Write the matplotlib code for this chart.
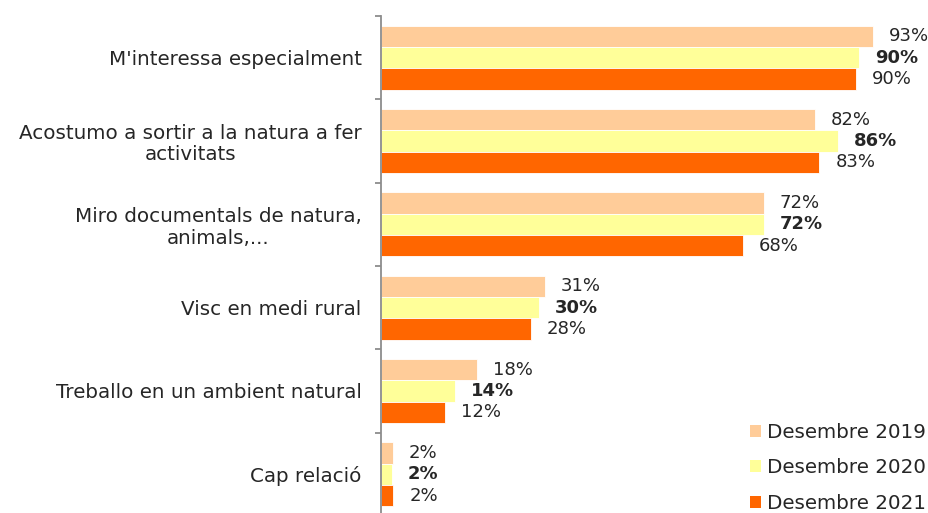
import numpy as np
import matplotlib.pyplot as plt
from matplotlib.patches import Patch

# ==== data ====
categories = [
    "M'interessa especialment",
    "Acostumo a sortir a la natura a fer\nactivitats",
    "Miro documentals de natura,\nanimals,...",
    "Visc en medi rural",
    "Treballo en un ambient natural",
    "Cap relació",
]
series_names = ["Desembre 2019", "Desembre 2020", "Desembre 2021"]
dec_2019 = [93.0, 82.1, 72.4, 31.0, 18.2, 2.2]
dec_2020 = [90.4, 86.4, 72.4, 29.9, 14.0, 2.1]
dec_2021 = [89.9, 82.9, 68.4, 28.4, 12.1, 2.3]
colors = ["#FFCC99", "#FFFF99", "#FF6600"]

plt.rcParams['font.family'] = ['DejaVu Sans']
text_color = "#262626"
cat_size = 14.3
lbl_size = 13

fig = plt.figure(figsize=(9.29, 5.13), dpi=100)
ax = fig.add_axes([381 / 929, -3 / 513, (909.7 - 381) / 929, (516 - 16) / 513])

y = np.arange(len(categories))
h = 0.255
all_series = [dec_2019, dec_2020, dec_2021]
for i, (vals, col, name) in enumerate(zip(all_series, colors, series_names)):
    pos = y + (i - 1) * h
    ax.barh(pos, vals, height=h, color=col, edgecolor="white", linewidth=0.6, label=name)
    for p, v in zip(pos, vals):
        ax.annotate(f"{v:.0f}%", xy=(v, p), xytext=(11.5, 0), textcoords="offset points",
                    va="center", ha="left", fontsize=lbl_size, color=text_color,
                    fontweight="bold" if i == 1 else "normal", annotation_clip=False)

ax.set_xlim(0, 100)
ax.set_ylim(len(categories) - 0.5, -0.5)
ax.set_yticks(y)
ax.set_yticklabels(categories, fontsize=cat_size, color=text_color,
                   multialignment="center", linespacing=1.15)
ax.set_yticks(np.arange(-0.5, len(categories)), minor=True)
ax.tick_params(axis="y", which="major", length=0, pad=14)
ax.tick_params(axis="y", which="minor", length=4.5, width=1.3, color="#8c8c8c")
ax.set_xticks([])
for s in ["top", "right", "bottom"]:
    ax.spines[s].set_visible(False)
ax.spines["left"].set_color("#8c8c8c")
ax.spines["left"].set_linewidth(1.3)

handles = [Patch(facecolor=c, edgecolor="none") for c in colors]
fig.legend(handles, series_names, loc="upper left", bbox_to_anchor=(750 / 929, 1 - 423 / 513),
           frameon=False, fontsize=14.3, handlelength=0.55, handleheight=0.55,
           handletextpad=0.3, labelspacing=0.82, borderpad=0, borderaxespad=0,
           labelcolor=text_color)

fig.savefig("out.png", dpi=100)
